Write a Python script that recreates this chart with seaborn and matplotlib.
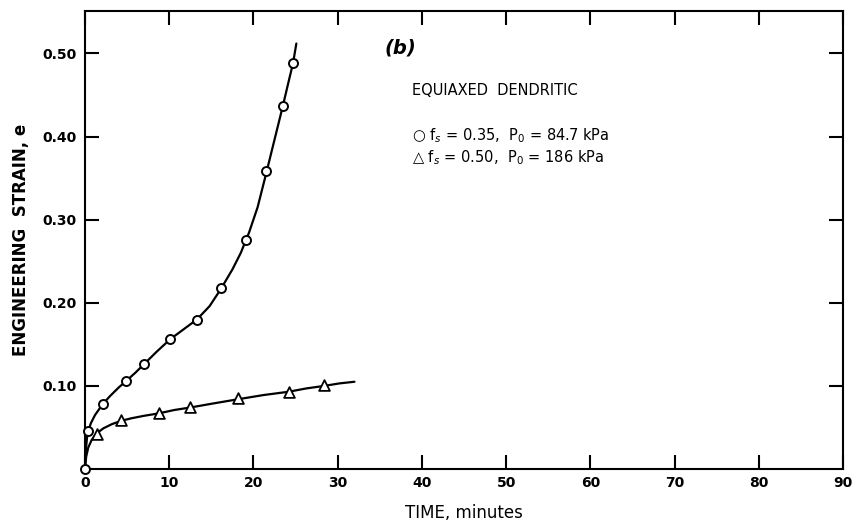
import matplotlib
matplotlib.use("Agg")

import matplotlib.pyplot as plt
import seaborn as sns

sns.set_theme(style="ticks")
plt.rcParams["font.family"] = ["DejaVu Sans"]
plt.rcParams["text.color"] = "black"
plt.rcParams["axes.labelcolor"] = "black"

# ── Data ───────────────────────────────────────────────────────────────────
# f_s = 0.35, P0 = 84.7 kPa (circles)
circ_t = [0.0, 0.4, 2.1, 4.9, 7.0, 10.1, 13.3, 16.1, 19.1, 21.5, 23.5, 24.7]
circ_e = [0.0, 0.046, 0.078, 0.106, 0.126, 0.157, 0.179, 0.218, 0.276, 0.358, 0.437, 0.488]
# hand-drawn smooth curve through the circles
circ_fit_t = [0.0, 0.1, 0.25, 0.4, 0.7, 1.2, 2.1, 3.0, 4.0, 4.9, 6.0, 7.0, 8.5,
              10.1, 11.7, 13.3, 14.8, 16.1, 17.5, 18.5, 19.5, 20.5, 21.5, 22.5,
              23.5, 24.2, 24.7, 25.1]
circ_fit_e = [0.0, 0.022, 0.038, 0.046, 0.055, 0.065, 0.078, 0.088, 0.098, 0.106,
              0.116, 0.126, 0.141, 0.156, 0.168, 0.180, 0.196, 0.216, 0.240, 0.260,
              0.285, 0.315, 0.355, 0.396, 0.437, 0.467, 0.488, 0.512]

# f_s = 0.50, P0 = 186 kPa (triangles)
tri_t = [1.4, 4.3, 8.8, 12.5, 18.2, 24.2, 28.4]
tri_e = [0.042, 0.059, 0.067, 0.075, 0.085, 0.093, 0.101]
tri_fit_t = [0.0, 0.15, 0.4, 0.8, 1.4, 2.2, 3.2, 4.3, 5.5, 7.0, 8.8, 10.6, 12.5,
             15.3, 18.2, 21.2, 24.2, 26.3, 28.4, 30.2, 32.0]
tri_fit_e = [0.0, 0.015, 0.026, 0.035, 0.043, 0.049, 0.054, 0.058, 0.061, 0.064,
             0.067, 0.071, 0.074, 0.079, 0.084, 0.089, 0.093, 0.097, 0.100, 0.103,
             0.105]

x_ticks = [0, 10, 20, 30, 40, 50, 60, 70, 80, 90]
y_ticks = [0.10, 0.20, 0.30, 0.40, 0.50]
y_labels = ["0.10", "0.20", "0.30", "0.40", "0.50"]

# ── Figure ─────────────────────────────────────────────────────────────────
fig = plt.figure(figsize=(8.58, 5.29), dpi=100)
ax = fig.add_axes([0.099, 0.1134, 0.8835, 0.8656])

sns.lineplot(x=circ_fit_t, y=circ_fit_e, sort=False, estimator=None,
             color="black", linewidth=1.6, ax=ax)
sns.lineplot(x=tri_fit_t, y=tri_fit_e, sort=False, estimator=None,
             color="black", linewidth=1.6, ax=ax)
sns.scatterplot(x=circ_t, y=circ_e, marker="o", s=42, facecolor="white",
                edgecolor="black", linewidth=1.4, zorder=5, clip_on=False, ax=ax)
sns.scatterplot(x=tri_t, y=tri_e, marker="^", s=60, facecolor="white",
                edgecolor="black", linewidth=1.3, zorder=5, clip_on=False, ax=ax)

ax.set_xlim(0, 90)
ax.set_ylim(0, 0.551)
ax.set_xticks(x_ticks)
ax.set_yticks(y_ticks)
ax.set_yticklabels(y_labels)

for side in ["left", "right", "top", "bottom"]:
    ax.spines[side].set_visible(True)
    ax.spines[side].set_linewidth(1.5)
    ax.spines[side].set_color("black")

ax.tick_params(axis="both", direction="in", length=10, width=1.5, color="black",
               labelsize=10, labelcolor="black", top=True, right=True)
ax.tick_params(axis="y", pad=6)
ax.tick_params(axis="x", pad=5)
for lbl in ax.get_xticklabels() + ax.get_yticklabels():
    lbl.set_fontweight("bold")

ax.set_xlabel("TIME, minutes", fontsize=12, labelpad=10)
ax.set_ylabel("ENGINEERING  STRAIN, e", fontsize=12, labelpad=9, fontweight="bold")

ax.text(37.5, 0.507, "(b)", fontsize=14, style="italic", fontweight="bold",
        ha="center", va="center")
ax.text(38.8, 0.455, "EQUIAXED  DENDRITIC", fontsize=10.5, ha="left", va="center")
ax.text(38.8, 0.401, "○ f$_s$ = 0.35,  P$_0$ = 84.7 kPa", fontsize=10.5,
        ha="left", va="center")
ax.text(38.8, 0.375, "△ f$_s$ = 0.50,  P$_0$ = 186 kPa", fontsize=10.5,
        ha="left", va="center")

fig.savefig("out.png", dpi=100)
plt.close(fig)
